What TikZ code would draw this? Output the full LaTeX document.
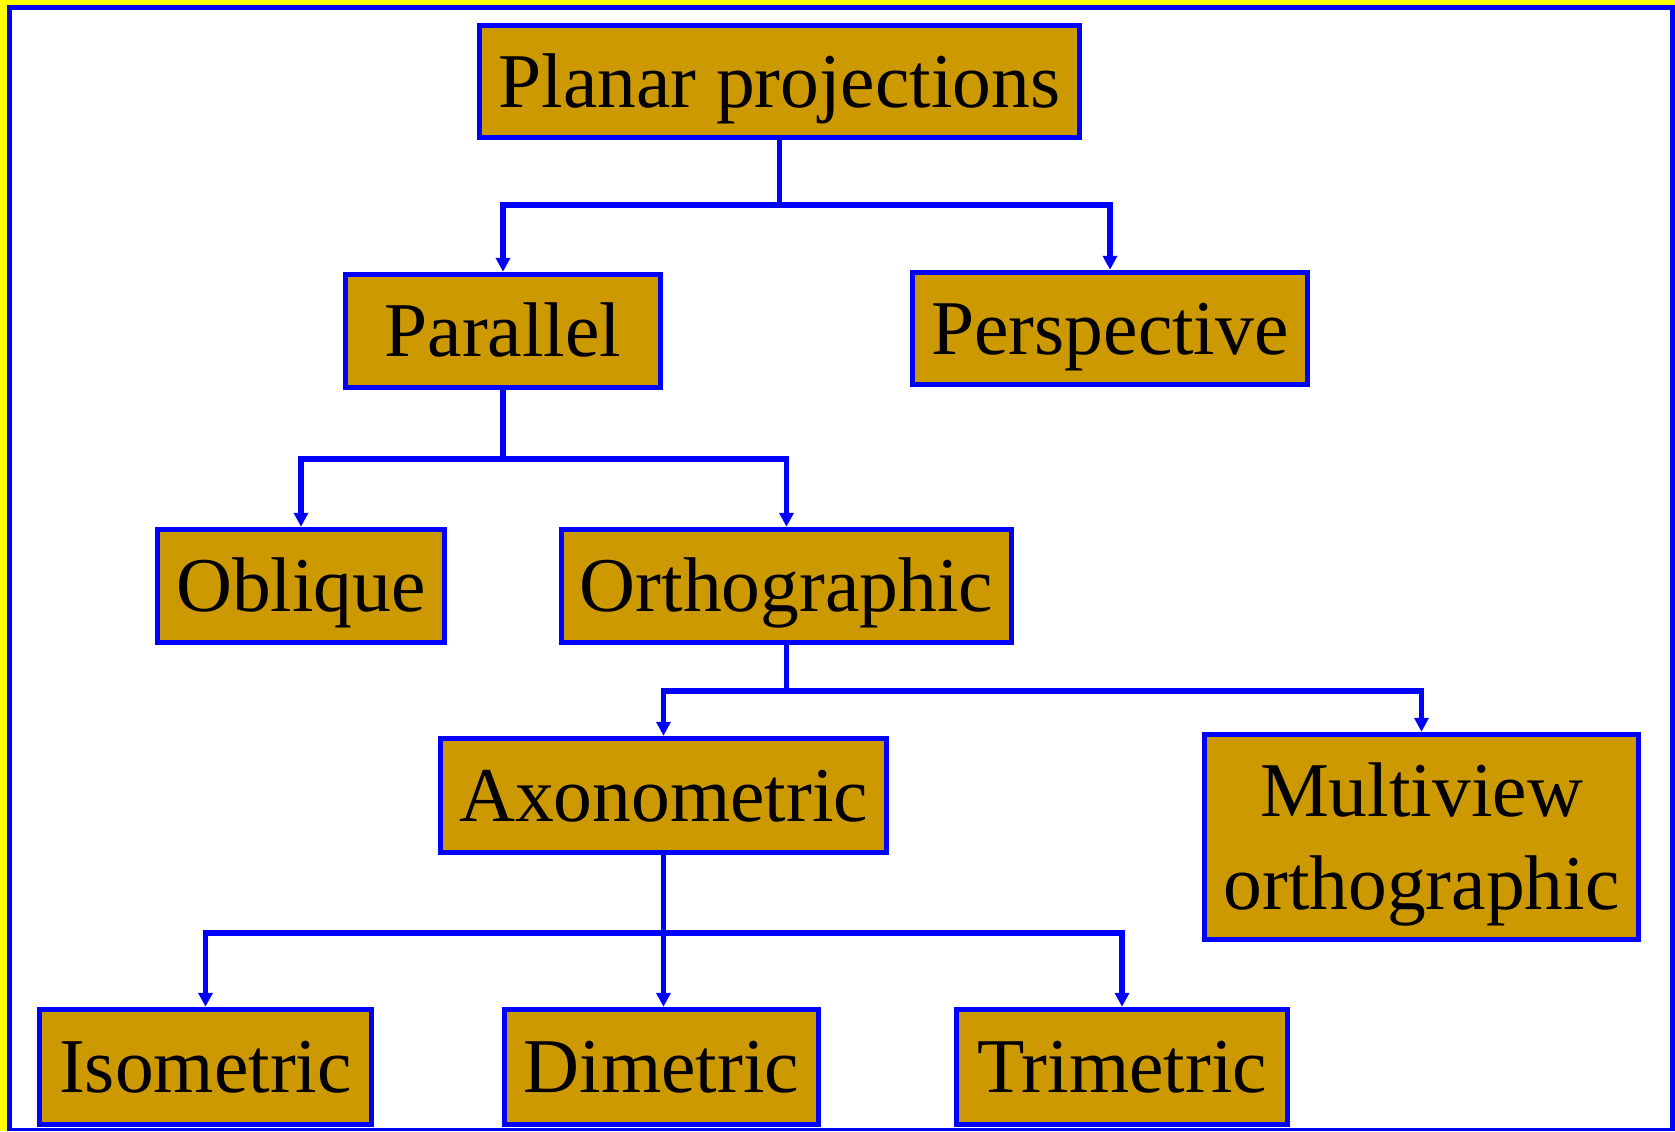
\documentclass[tikz,border=0pt]{standalone}
\usepackage{fontspec}
\setmainfont{Liberation Serif}
\usetikzlibrary{arrows.meta}
\definecolor{boxfill}{RGB}{204,153,0}
\definecolor{boxblue}{RGB}{0,0,255}
\definecolor{frameyellow}{RGB}{255,255,0}
\tikzset{
  pbox/.style={draw=boxblue, line width=2.75pt, fill=boxfill, inner sep=0pt,
    font=\fontsize{38.75pt}{46.5pt}\selectfont, text=black,
    text height=25.6pt, text depth=0pt},
  conn/.style={draw=boxblue, line width=2.75pt},
  arr/.style={conn, -{Triangle[width=7pt,length=7pt]}}
}
\begin{document}
\begin{tikzpicture}[x=0.5pt,y=-0.5pt]
\useasboundingbox (0,0) rectangle (1675,1131);
\fill[frameyellow] (0,0) rectangle (1675,1131);
\fill[boxblue] (7,5) rectangle (1675,1131);
\fill[white] (12,10) rectangle (1670,1128);

\node[pbox, minimum width=300pt, minimum height=56pt] (planar) at (779.5,81.5) {Planar projections};
\node[pbox, minimum width=157.5pt, minimum height=56.5pt] (parallel) at (503,331) {Parallel};
\node[pbox, minimum width=197.5pt, minimum height=56pt] (persp) at (1110,328.5) {Perspective};
\node[pbox, minimum width=143.5pt, minimum height=56.5pt] (oblique) at (301,586) {Oblique};
\node[pbox, minimum width=225pt, minimum height=56.5pt] (ortho) at (786.5,586) {Orthographic};
\node[pbox, minimum width=223pt, minimum height=57pt] (axono) at (663.5,795.5) {Axonometric};
\node[pbox, minimum width=217pt, minimum height=102.5pt, align=center, text height=72.1pt, text depth=0pt] (multi) at (1421.5,837) {Multiview\\orthographic};
\node[pbox, minimum width=166pt, minimum height=57.5pt] (iso) at (205.5,1067) {Isometric};
\node[pbox, minimum width=157pt, minimum height=57.5pt] (dime) at (661.5,1067) {Dimetric};
\node[pbox, minimum width=165.5pt, minimum height=57.5pt] (trime) at (1122,1067) {Trimetric};

\coordinate (j1) at (planar.south |- 0,205);
\coordinate (j2) at (parallel.south |- 0,459);
\coordinate (j3) at (ortho.south |- 0,691);
\coordinate (j4) at (axono.south |- 0,933);

\draw[conn] (planar.south) -- (j1);
\draw[arr] (j1) -| (parallel.north);
\draw[arr] (j1) -| (persp.north);

\draw[conn] (parallel.south) -- (j2);
\draw[arr] (j2) -| (oblique.north);
\draw[arr] (j2) -| (ortho.north);

\draw[conn] (ortho.south) -- (j3);
\draw[arr] (j3) -| (axono.north);
\draw[arr] (j3) -| (multi.north);

\draw[conn] (axono.south) -- (j4);
\draw[arr] (j4) -| (iso.north);
\draw[arr] (j4) -- (j4 |- dime.north);
\draw[arr] (j4) -| (trime.north);
\end{tikzpicture}
\end{document}
